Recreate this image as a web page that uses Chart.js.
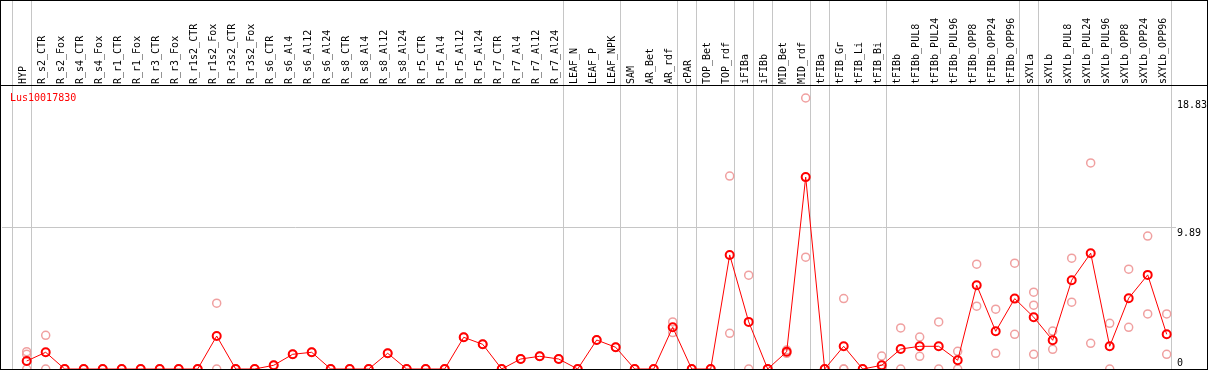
<!DOCTYPE html>
<html>
<head>
<meta charset="utf-8">
<script src="https://cdn.jsdelivr.net/npm/chart.js@4/dist/chart.umd.min.js"></script>
<style>
  html, body { margin: 0; padding: 0; background: #fff; overflow: hidden; }
  canvas { display: block; }
</style>
</head>
<body>
<canvas id="chart" width="1209" height="370"></canvas>
<script>
const geneName = "Lus10017830";

const categories = ["HYP", "R_s2_CTR", "R_s2_Fox", "R_s4_CTR", "R_s4_Fox", "R_r1_CTR", "R_r1_Fox",
  "R_r3_CTR", "R_r3_Fox", "R_r1s2_CTR", "R_r1s2_Fox", "R_r3s2_CTR", "R_r3s2_Fox", "R_s6_CTR",
  "R_s6_Al4", "R_s6_Al12", "R_s6_Al24", "R_s8_CTR", "R_s8_Al4", "R_s8_Al12", "R_s8_Al24",
  "R_r5_CTR", "R_r5_Al4", "R_r5_Al12", "R_r5_Al24", "R_r7_CTR", "R_r7_Al4", "R_r7_Al12", "R_r7_Al24",
  "LEAF_N", "LEAF_P", "LEAF_NPK", "SAM", "AR_Bet", "AR_rdf", "cPAR", "TOP_Bet", "TOP_rdf",
  "iFIBa", "iFIBb", "MID_Bet", "MID_rdf", "tFIBa", "tFIB_Gr", "tFIB_Li", "tFIB_Bi", "tFIBb",
  "tFIBb_PUL8", "tFIBb_PUL24", "tFIBb_PUL96", "tFIBb_OPP8", "tFIBb_OPP24", "tFIBb_OPP96",
  "sXYLa", "sXYLb", "sXYLb_PUL8", "sXYLb_PUL24", "sXYLb_PUL96", "sXYLb_OPP8", "sXYLb_OPP24", "sXYLb_OPP96"];

// mean expression per sample (the joined red line)
const means = [0.56, 1.17, 0, 0, 0, 0, 0, 0, 0, 0, 2.31, 0, 0, 0.26, 1.03, 1.17, 0, 0, 0, 1.10,
  0, 0, 0, 2.22, 1.73, 0, 0.70, 0.89, 0.70, 0, 2.03, 1.52, 0, 0, 2.92, 0, 0, 7.99, 3.30, 0,
  1.21, 13.44, 0, 1.59, 0, 0.26, 1.40, 1.59, 1.59, 0.61, 5.87, 2.64, 4.93, 3.63, 2.01, 6.22,
  8.11, 1.59, 4.96, 6.59, 2.43];

// single replicates (pale circles)
const rep1 = [1.21, 2.36, 0, 0, 0, 0, 0, 0, 0, 0, 4.61, 0, 0, 0.26, 1.03, 1.17, 0, 0, 0, 1.10,
  0, 0, 0, 2.22, 1.73, 0, 0.70, 0.89, 0.70, 0, 2.03, 1.52, 0, 0, 3.30, 0, 0, 13.51, 6.57, 0,
  1.33, 18.98, 0, 4.93, 0, 0.91, 2.88, 2.24, 3.30, 1.24, 7.34, 4.19, 7.41, 5.38, 2.66, 7.76,
  14.43, 3.20, 6.99, 9.31, 3.86];
const rep2 = [1.03, 0, 0, 0, 0, 0, 0, 0, 0, 0, 0, 0, 0, 0.26, 1.03, 1.17, 0, 0, 0, 1.10,
  0, 0, 0, 2.22, 1.73, 0, 0.70, 0.89, 0.70, 0, 2.03, 1.52, 0, 0, 2.55, 0, 0, 2.50, 0, 0,
  1.10, 7.83, 0, 0, 0, 0, 0, 0.89, 0, 0, 4.40, 1.10, 2.43, 4.47, 1.38, 4.68,
  1.80, 0, 2.92, 3.86, 1.03];
const rep3 = [0, null, null, null, null, null, null, null, null, null, null, null, null, null, null, null,
  null, null, null, null, null, null, null, null, null, null, null, null, null, null, null, null,
  null, null, null, null, null, null, null, null, null, null, null, 0, null, 0, null, null, null,
  null, null, null, null, 1.03, null, null, null, null, null, null, null];

const yTicks = [0, 9.89, 18.83];
// last sample index of each group (grey separators)
const groupEnds = [-1, 0, 28, 31, 34, 35, 37, 38, 39, 41, 42, 45, 52, 53, 60];

const repPoints = [];
[rep1, rep2, rep3].forEach(r => r.forEach((v, i) => { if (v !== null) repPoints.push({x: i, y: v}); }));

const frame = {
  id: 'frame',
  beforeDraw(chart) {
    const {ctx, chartArea, scales: {x}} = chart;
    ctx.save();
    ctx.fillStyle = '#fff';
    ctx.fillRect(0, 0, chart.width, chart.height);
    ctx.strokeStyle = '#c6c6c6';
    ctx.lineWidth = 1;
    groupEnds.forEach(i => {
      const px = Math.round(x.getPixelForValue(i) + 4) + 0.5;
      ctx.beginPath();
      ctx.moveTo(px, 0);
      ctx.lineTo(px, chartArea.bottom);
      ctx.stroke();
    });
    ctx.restore();
  },
  afterDraw(chart) {
    const {ctx} = chart;
    ctx.save();
    ctx.fillStyle = '#000';
    ctx.fillRect(0, 0, 1208, 1);
    ctx.fillRect(0, 0, 1, 370);
    ctx.fillRect(1207, 0, 1, 370);
    ctx.fillRect(0, 85, 1208, 1);
    ctx.fillRect(0, 369, 1208, 1);
    ctx.fillStyle = '#ff0000';
    ctx.font = '10px "DejaVu Sans Mono"';
    ctx.textBaseline = 'middle';
    ctx.fillText(geneName, 10, 98);
    ctx.restore();
  }
};

new Chart(document.getElementById('chart'), {
  type: 'line',
  data: {
    datasets: [{
      data: means.map((v, i) => ({x: i, y: v})),
      borderColor: '#ff0000',
      borderWidth: 1,
      pointRadius: 4,
      pointBorderWidth: 2,
      pointBorderColor: '#ff0000',
      pointBackgroundColor: 'rgba(0,0,0,0)',
      tension: 0,
      clip: false
    }, {
      data: repPoints,
      showLine: false,
      pointRadius: 4,
      pointBorderWidth: 1.5,
      pointBorderColor: '#f0a0a0',
      pointBackgroundColor: 'rgba(0,0,0,0)',
      clip: false
    }]
  },
  options: {
    responsive: false,
    animation: false,
    events: [],
    layout: { padding: {left: 2, right: 2, top: 2, bottom: 1}, autoPadding: false },
    plugins: { legend: { display: false }, tooltip: { enabled: false } },
    scales: {
      x: {
        type: 'linear',
        position: 'top',
        min: -1.3,
        max: 60.49,
        afterBuildTicks: s => { s.ticks = categories.map((c, i) => ({value: i})); },
        afterFit: s => { s.height = 84; s.paddingLeft = 0; s.paddingRight = 0; },
        grid: { display: false, drawTicks: false },
        border: { display: false },
        ticks: {
          autoSkip: false,
          minRotation: 90,
          maxRotation: 90,
          padding: 2,
          color: '#000',
          font: { family: 'DejaVu Sans Mono', size: 10, lineHeight: 0.3 },
          callback: v => categories[v]
        }
      },
      y: {
        position: 'right',
        min: 0,
        max: 19.82,
        afterBuildTicks: s => { s.ticks = yTicks.map(v => ({value: v})); },
        afterFit: s => { s.width = 31; s.paddingTop = 0; s.paddingBottom = 0; },
        grid: {
          drawTicks: false,
          color: c => (c.tick && c.tick.value === 9.89) ? '#c6c6c6' : 'rgba(0,0,0,0)'
        },
        border: { display: false },
        ticks: {
          padding: 1,
          color: '#000',
          font: { family: 'DejaVu Sans Mono', size: 10, lineHeight: 1.1 },
          callback: v => v === 0 ? ['0', ''] : ['', String(v)]
        }
      }
    }
  },
  plugins: [frame]
});
</script>
</body>
</html>
